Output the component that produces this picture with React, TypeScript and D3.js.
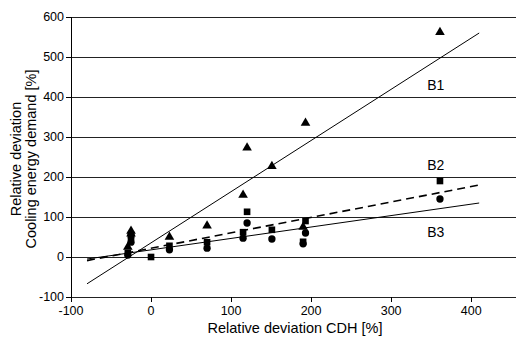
import React from "react";
import * as d3 from "d3";

const W = 517;
const H = 341;

const xTicks = [-100, 0, 100, 200, 300, 400];
const yTicks = [-100, 0, 100, 200, 300, 400, 500, 600];

// Series B1 (triangles)
const triX = [-29, -25, -25, 23, 70, 115, 120, 151, 190, 193, 361];
const triY = [25, 58, 65, 50, 78, 155, 273, 227, 75, 335, 562];
// Series B2 (squares)
const sqX = [-29, -25, -25, 0, 23, 70, 115, 120, 151, 190, 193, 361];
const sqY = [10, 50, 55, 0, 28, 37, 62, 113, 68, 38, 90, 190];
// Series B3 (circles)
const ciX = [-29, -25, 23, 70, 115, 120, 151, 190, 193, 361];
const ciY = [5, 37, 18, 22, 47, 85, 45, 33, 60, 145];

// Regression lines: [x0, y0, x1, y1]
const lineB1 = [-80, -67, 410, 560];
const lineB2 = [-80, -9, 410, 180];
const lineB3 = [-80, -5, 410, 135];

const labels = ["B1", "B2", "B3"];
const labelY = [430, 230, 62];

export default function App() {
  const m = { left: 71, right: 516, top: 17, bottom: 297 };
  const x = d3.scaleLinear().domain([-100, 456]).range([m.left, m.right]);
  const y = d3.scaleLinear().domain([-100, 600]).range([m.bottom, m.top]);
  const line = d3.line<[number, number]>().x((d) => x(d[0])).y((d) => y(d[1]));
  const seg = (l: number[]) =>
    line([
      [l[0], l[1]],
      [l[2], l[3]],
    ]) as string;
  const tri = d3.symbol().type(d3.symbolTriangle).size(40)() as string;
  const sq = d3.symbol().type(d3.symbolSquare).size(44)() as string;
  const ci = d3.symbol().type(d3.symbolCircle).size(42)() as string;
  const font = "Arial, 'Liberation Sans', sans-serif";

  return (
    <div style={{ position: "absolute", left: 0, top: 0 }}>
      <svg width={W} height={H} style={{ display: "block", background: "#fff" }} fontFamily={font}>
        {yTicks.map((t) => (
          <g key={"y" + t}>
            <line x1={m.left} x2={m.right} y1={Math.round(y(t)) + 0.5} y2={Math.round(y(t)) + 0.5} stroke="#222" strokeWidth={1} />
            <line x1={m.left - 5} x2={m.left} y1={Math.round(y(t)) + 0.5} y2={Math.round(y(t)) + 0.5} stroke="#000" />
            <text x={m.left - 7} y={y(t)} dy="0.35em" textAnchor="end" fontSize={12.5}>
              {t}
            </text>
          </g>
        ))}
        <line x1={m.left + 0.5} x2={m.left + 0.5} y1={m.top} y2={m.bottom + 1} stroke="#000" />
        {xTicks.map((t) => (
          <g key={"x" + t}>
            <line x1={Math.round(x(t)) + 0.5} x2={Math.round(x(t)) + 0.5} y1={m.bottom} y2={m.bottom + 5} stroke="#000" />
            <text x={x(t)} y={m.bottom + 18} textAnchor="middle" fontSize={12.5}>
              {t}
            </text>
          </g>
        ))}
        <path d={seg(lineB1)} stroke="#000" strokeWidth={1} fill="none" />
        <path d={seg(lineB2)} stroke="#000" strokeWidth={1.6} strokeDasharray="8,5" fill="none" />
        <path d={seg(lineB3)} stroke="#000" strokeWidth={1} fill="none" />
        {triX.map((v, i) => (
          <path key={"t" + i} d={tri} transform={`translate(${x(v)},${y(triY[i])})`} fill="#000" />
        ))}
        {sqX.map((v, i) => (
          <path key={"s" + i} d={sq} transform={`translate(${x(v)},${y(sqY[i])})`} fill="#000" />
        ))}
        {ciX.map((v, i) => (
          <path key={"c" + i} d={ci} transform={`translate(${x(v)},${y(ciY[i])})`} fill="#000" />
        ))}
        {labels.map((l, i) => (
          <text key={l} x={x(345)} y={y(labelY[i])} dy="0.35em" fontSize={14}>
            {l}
          </text>
        ))}
        <text x={295} y={333} textAnchor="middle" fontSize={14.5}>
          Relative deviation CDH [%]
        </text>
        <g transform={`translate(0,159) rotate(-90)`}>
          <text x={0} y={21} textAnchor="middle" fontSize={14.5}>
            Relative deviation
          </text>
          <text x={0} y={36} textAnchor="middle" fontSize={14.5}>
            Cooling energy demand [%]
          </text>
        </g>
      </svg>
    </div>
  );
}
